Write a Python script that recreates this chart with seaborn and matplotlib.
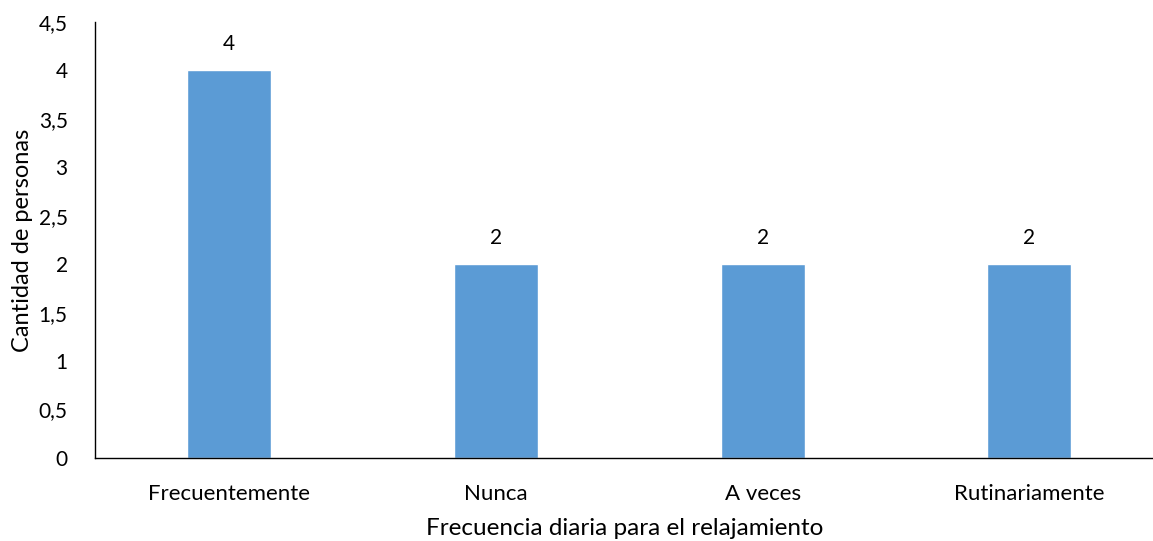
import matplotlib
matplotlib.use("Agg")
import matplotlib.pyplot as plt
import seaborn as sns
import pandas as pd

categorias = ["Frecuentemente", "Nunca", "A veces", "Rutinariamente"]
cantidades = [4, 2, 2, 2]
yticks = [0, 0.5, 1, 1.5, 2, 2.5, 3, 3.5, 4, 4.5]
ytick_labels = ["0", "0,5", "1", "1,5", "2", "2,5", "3", "3,5", "4", "4,5"]

df = pd.DataFrame({"categoria": categorias, "cantidad": cantidades})

sns.set_style("white")
plt.rcParams["font.family"] = ["Lato", "DejaVu Sans"]
plt.rcParams["text.color"] = "black"
plt.rcParams["axes.labelcolor"] = "black"
plt.rcParams["xtick.color"] = "black"
plt.rcParams["ytick.color"] = "black"

fig = plt.figure(figsize=(11.53, 5.41), dpi=100)
ax = fig.add_axes([0.0828, 0.1534, 0.9172, 0.8059])

sns.barplot(data=df, x="categoria", y="cantidad", color="#5B9BD5",
            saturation=1, width=0.315, ax=ax)

for c in ax.containers:
    ax.bar_label(c, labels=[str(v) for v in cantidades], padding=12,
                 fontsize=15, color="black")

ax.set_ylim(0, 4.5)
ax.set_xlim(-0.5, 3.463)
ax.set_yticks(yticks)
ax.set_yticklabels(ytick_labels, fontsize=15)
ax.tick_params(axis="x", labelsize=16, pad=19, length=0, labelcolor="black")
ax.tick_params(axis="y", pad=20, length=0, labelcolor="black")
ax.set_xlabel("Frecuencia diaria para el relajamiento", fontsize=17.5, labelpad=10, color="black")
ax.set_ylabel("Cantidad de personas", fontsize=17, labelpad=4, color="black")

sns.despine(ax=ax, top=True, right=True)
for s in ["left", "bottom"]:
    ax.spines[s].set_color("black")
    ax.spines[s].set_linewidth(1)

fig.savefig("out.png", dpi=100)
